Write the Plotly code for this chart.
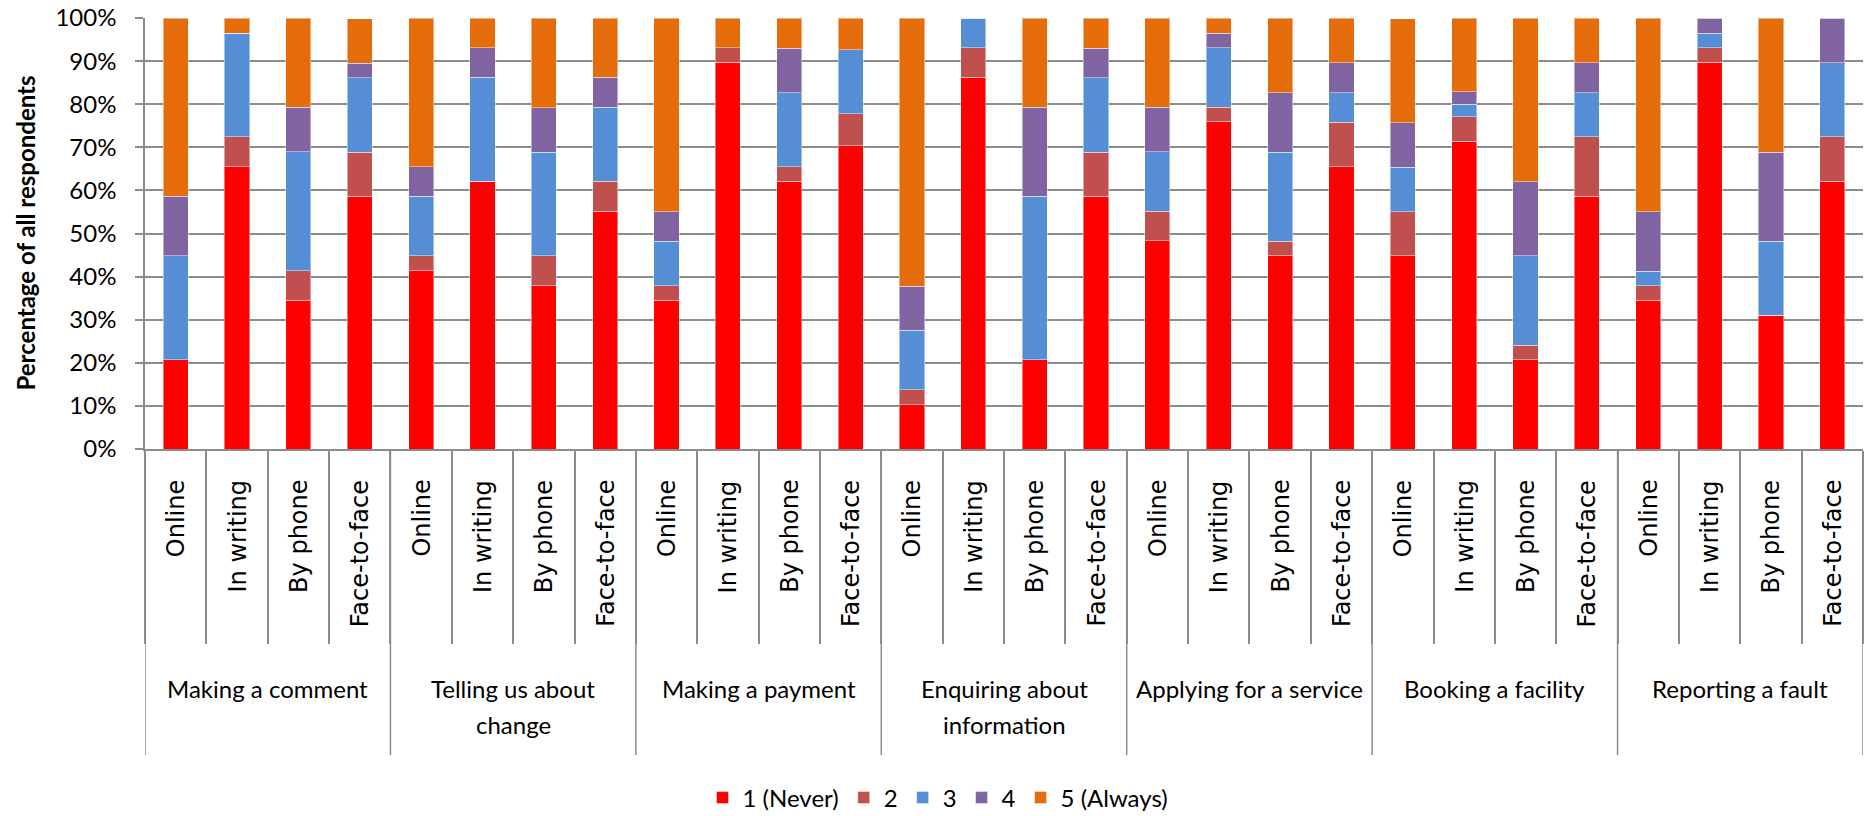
import plotly.graph_objects as go

# Survey: how often respondents use each contact channel, per task (percent of all respondents)
groups = ["Making a comment", "Telling us about<br>change", "Making a payment",
          "Enquiring about<br>information", "Applying for a service",
          "Booking a facility", "Reporting a fault"]
channels = ["Online", "In writing", "By phone", "Face-to-face"]

series_names = ["1 (Never)", "2", "3", "4", "5 (Always)"]
series_colors = ["#FF0000", "#C0504D", "#558ED5", "#8064A2", "#E46C0A"]

never = [20.7, 65.5, 34.5, 58.6, 41.4, 62.1, 37.9, 55.2, 34.5, 89.7, 62.1, 70.4, 10.3, 86.2,
         20.7, 58.6, 48.3, 75.9, 44.8, 65.5, 44.8, 71.4, 20.7, 58.6, 34.5, 89.7, 31.0, 62.1]
two = [0.0, 6.9, 6.9, 10.3, 3.4, 0.0, 6.9, 6.9, 3.4, 3.4, 3.4, 7.4, 3.4, 6.9,
       0.0, 10.3, 6.9, 3.4, 3.4, 10.3, 10.3, 5.7, 3.4, 13.8, 3.4, 3.4, 0.0, 10.3]
three = [24.1, 24.1, 27.6, 17.2, 13.8, 24.1, 24.1, 17.2, 10.3, 0.0, 17.2, 14.8, 13.8, 6.9,
         37.9, 17.2, 13.8, 13.8, 20.7, 6.9, 10.3, 2.9, 20.7, 10.3, 3.4, 3.4, 17.2, 17.2]
four = [13.8, 0.0, 10.3, 3.4, 6.9, 6.9, 10.3, 6.9, 6.9, 0.0, 10.3, 0.0, 10.3, 0.0,
        20.7, 6.9, 10.3, 3.4, 13.8, 6.9, 10.3, 2.9, 17.2, 6.9, 13.8, 3.4, 20.7, 10.3]
always = [41.4, 3.4, 20.7, 10.3, 34.5, 6.9, 20.7, 13.8, 44.8, 6.9, 6.9, 7.4, 62.1, 0.0,
          20.7, 6.9, 20.7, 3.4, 17.2, 10.3, 24.1, 17.1, 37.9, 10.3, 44.8, 0.0, 31.0, 0.0]

y_ticks = [0, 10, 20, 30, 40, 50, 60, 70, 80, 90, 100]

# ---- page geometry (pixels) ----
W, H = 1876, 816
PL, PR, PT, PB = 145, 1863, 18, 449          # plot area edges
plot_h = PB - PT
n_ch = len(channels)
n_cat = len(groups) * n_ch
xpos = [gi * n_ch + ci for gi in range(len(groups)) for ci in range(n_ch)]


def py(pixel_y):
    """pixel row -> paper y"""
    return (PB - pixel_y) / plot_h


def px(pixel_x):
    """pixel column -> paper x"""
    return (pixel_x - PL) / (PR - PL)


GRAY = "#8C8C8C"
LABEL_FONT = "Lato, 'Open Sans', sans-serif"

fig = go.Figure()
for name, color, vals in zip(series_names, series_colors, [never, two, three, four, always]):
    fig.add_trace(go.Bar(
        x=xpos, y=vals, name=name,
        marker=dict(color=color, line=dict(color="rgba(255,255,255,0.45)", width=1)),
        width=0.41,
    ))

shapes = []
# long dividers between task groups
for gi in range(len(groups) + 1):
    xb = gi * n_ch - 0.5
    shapes.append(dict(type="line", xref="x", yref="paper", x0=xb, x1=xb,
                       y0=0, y1=py(755), line=dict(color=GRAY, width=1.5)))

annotations = []
# channel labels, rotated
for i, x in enumerate(xpos):
    annotations.append(dict(
        x=x, y=py(478), xref="x", yref="paper", text=channels[i % n_ch],
        textangle=-90, showarrow=False, xanchor="center", yanchor="top",
        font=dict(family="DejaVu Sans, Verdana, sans-serif", size=24, color="#000000"),
    ))
# task labels (one annotation per line for a looser line spacing)
for gi, g in enumerate(groups):
    for li, line in enumerate(g.split("<br>")):
        annotations.append(dict(
            x=gi * n_ch + (n_ch - 1) / 2, y=py(672 + 36 * li), xref="x", yref="paper",
            text=line, showarrow=False, xanchor="center", yanchor="top",
            font=dict(family=LABEL_FONT, size=24, color="#000000"),
        ))
# y axis title
annotations.append(dict(
    x=px(25), y=0.5, xref="paper", yref="paper", text="<b>Percentage of all respondents</b>",
    textangle=-90, showarrow=False, xanchor="center", yanchor="middle",
    font=dict(family=LABEL_FONT, size=24, color="#000000"),
))

fig.update_layout(
    width=W, height=H,
    barmode="stack",
    plot_bgcolor="white", paper_bgcolor="white",
    margin=dict(l=PL, r=W - PR, t=PT, b=H - PB, autoexpand=False),
    shapes=shapes, annotations=annotations,
    legend=dict(
        orientation="h", xref="container", yref="container",
        x=0.5, xanchor="center", y=(H - 798) / H, yanchor="middle",
        font=dict(family=LABEL_FONT, size=24, color="#000000"),
        traceorder="normal",
    ),
    xaxis=dict(
        range=[-0.5, n_cat - 0.5], showgrid=False, zeroline=False,
        showline=True, linecolor=GRAY, linewidth=2,
        tickmode="array", tickvals=[i - 0.5 for i in range(n_cat + 1)],
        ticks="outside", ticklen=642 - PB, tickcolor=GRAY, tickwidth=1.5,
        showticklabels=False, fixedrange=True,
    ),
    yaxis=dict(
        range=[0, 100], tickmode="array", tickvals=y_ticks,
        ticktext=[f"{v}%" for v in y_ticks],
        showgrid=True, gridcolor=GRAY, gridwidth=2, zeroline=False,
        showline=True, linecolor=GRAY, linewidth=1.5,
        ticks="outside", ticklen=8, tickcolor=GRAY, tickwidth=2,
        ticklabelstandoff=14,
        tickfont=dict(family=LABEL_FONT, size=24, color="#000000"),
        fixedrange=True,
    ),
    showlegend=True,
)

fig.write_html("out.html")
